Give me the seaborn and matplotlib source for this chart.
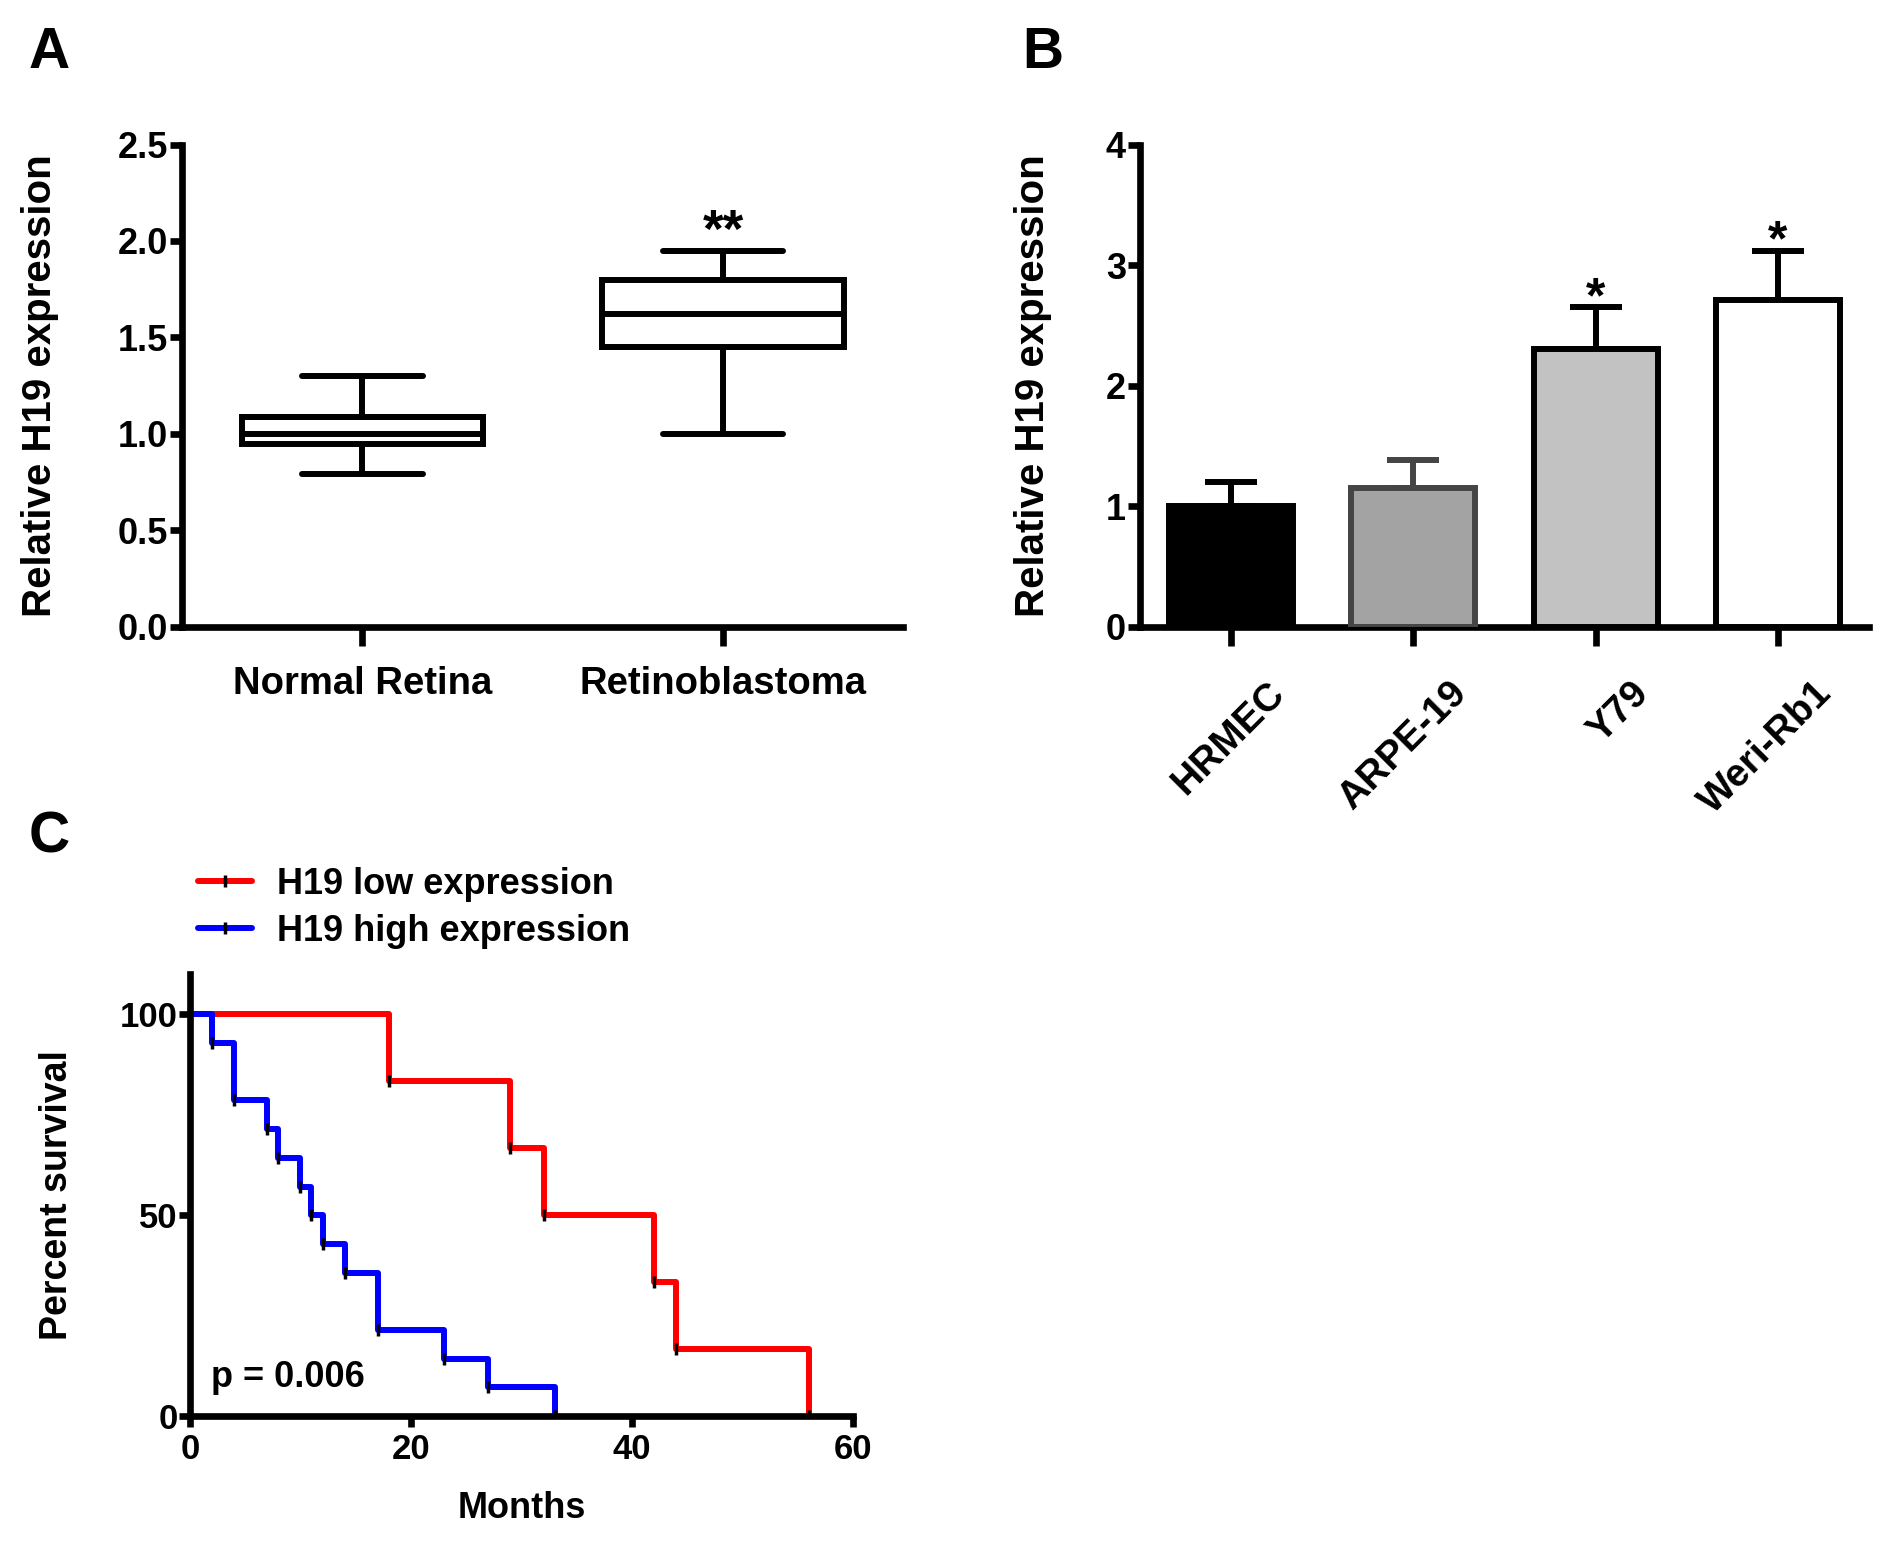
import matplotlib
matplotlib.use('Agg')
import matplotlib.pyplot as plt
import matplotlib.transforms as mtransforms
from matplotlib.ticker import FormatStrFormatter
import numpy as np
import pandas as pd
import seaborn as sns

# A: box plot values (min, Q1, median, Q3, max)
tissue_groups = ['Normal Retina', 'Retinoblastoma']
normal_retina = [0.79, 0.95, 1.00, 1.09, 1.30]
retinoblastoma = [1.00, 1.45, 1.62, 1.80, 1.95]

# B: bar plot, mean and upper error
cell_lines = ['HRMEC', 'ARPE-19', 'Y79', 'Weri-Rb1']
cell_means = [1.00, 1.15, 2.30, 2.71]
cell_err = [0.20, 0.23, 0.35, 0.41]
cell_stars = ['', '', '*', '*']
bar_fills = ['#000000', '#a3a3a3', '#c2c2c2', '#ffffff']
bar_edges = ['#000000', '#454545', '#000000', '#000000']

# C: Kaplan-Meier steps (time in months, percent survival)
low_times = [0, 18, 29, 32, 42, 44, 56]
low_surv = [100, 83.3, 66.7, 50, 33.3, 16.7, 0]
high_times = [0, 2, 4, 7, 8, 10, 11, 12, 14, 17, 23, 27, 33]
high_surv = [100, 92.9, 78.6, 71.4, 64.3, 57.1, 50, 42.9, 35.7, 21.4, 14.3, 7.1, 0]

sns.set_style('ticks')
plt.rcParams['font.family'] = ['Liberation Sans', 'DejaVu Sans']
plt.rcParams['font.weight'] = 'bold'
plt.rcParams['axes.labelweight'] = 'bold'
plt.rcParams['axes.linewidth'] = 4.8
plt.rcParams['xtick.major.width'] = 4.8
plt.rcParams['ytick.major.width'] = 4.8
plt.rcParams['xtick.color'] = 'black'
plt.rcParams['ytick.color'] = 'black'
plt.rcParams['axes.edgecolor'] = 'black'
plt.rcParams['axes.labelcolor'] = 'black'
plt.rcParams['text.color'] = 'black'

LW = 4.3
fig = plt.figure(figsize=(18.9, 15.46), dpi=100)

# ---------- A ----------
axA = fig.add_axes([0.0963, 0.5946, 0.3817, 0.3119])
dfA = pd.DataFrame({
    'group': [tissue_groups[0]] * len(normal_retina) + [tissue_groups[1]] * len(retinoblastoma),
    'value': normal_retina + retinoblastoma,
})
sns.boxplot(data=dfA, x='group', y='value', whis=(0, 100), width=0.67,
            color='white', linecolor='black', linewidth=LW, ax=axA)
axA.set_xlim(-0.5, 1.5)
axA.set_ylim(0, 2.5)
axA.set_yticks(np.arange(0, 2.51, 0.5))
axA.yaxis.set_major_formatter(FormatStrFormatter('%.1f'))
axA.set_xlabel('')
axA.set_ylabel('Relative H19 expression', fontsize=29)
axA.yaxis.set_label_coords(-0.17, 0.5)
axA.tick_params(axis='y', length=9, pad=1, labelsize=26)
axA.tick_params(axis='x', length=14, pad=14, labelsize=27.5)
axA.text(1, max(retinoblastoma) + 0.02, '**', ha='center', va='baseline', fontsize=38)
sns.despine(ax=axA)

# ---------- B ----------
axB = fig.add_axes([0.603, 0.5946, 0.386, 0.3119])
sns.barplot(x=cell_lines, y=cell_means, hue=cell_lines, palette=bar_fills,
            legend=False, errorbar=None, width=0.68, linewidth=LW,
            saturation=1, ax=axB, zorder=3)
for patch, ec in zip(axB.patches, bar_edges):
    patch.set_edgecolor(ec)
for i in range(len(cell_lines)):
    axB.errorbar(i, cell_means[i], yerr=[[0], [cell_err[i]]], fmt='none',
                 ecolor=bar_edges[i], elinewidth=LW, capsize=19, capthick=LW, zorder=2)
    if cell_stars[i]:
        axB.text(i, cell_means[i] + cell_err[i] - 0.04, cell_stars[i], ha='center',
                 va='baseline', fontsize=36)
axB.set_xlim(-0.5, 3.5)
axB.set_ylim(0, 4)
axB.set_yticks([0, 1, 2, 3, 4])
axB.set_ylabel('Relative H19 expression', fontsize=29)
axB.yaxis.set_label_coords(-0.12, 0.5)
axB.tick_params(axis='y', length=9, pad=1, labelsize=26)
axB.tick_params(axis='x', length=14, pad=30, labelsize=28)
offset = mtransforms.ScaledTranslation(0.48, 0, fig.dpi_scale_trans)
for lab in axB.get_xticklabels():
    lab.set_rotation(45)
    lab.set_ha('right')
    lab.set_va('center')
    lab.set_rotation_mode('anchor')
    lab.set_transform(lab.get_transform() + offset)
sns.despine(ax=axB)

# ---------- C ----------
axC = fig.add_axes([0.1005, 0.0841, 0.3508, 0.2858])
sns.lineplot(x=low_times, y=low_surv, drawstyle='steps-post', color='#ff0000',
             linewidth=LW, marker='|', markersize=9, markeredgecolor='black',
             markeredgewidth=2.5, label='H19 low expression', ax=axC)
sns.lineplot(x=high_times, y=high_surv, drawstyle='steps-post', color='#0000ff',
             linewidth=LW, marker='|', markersize=9, markeredgecolor='black',
             markeredgewidth=2.5, label='H19 high expression', ax=axC)
axC.set_xlim(0, 60)
axC.set_ylim(0, 110)
axC.set_xticks([0, 20, 40, 60])
axC.set_yticks([0, 50, 100])
axC.set_xlabel('Months', fontsize=26)
axC.set_ylabel('Percent survival', fontsize=27)
axC.yaxis.set_label_coords(-0.173, 0.5)
axC.xaxis.set_label_coords(0.5, -0.17)
axC.tick_params(axis='both', length=8, labelsize=25)
axC.tick_params(axis='y', pad=1)
axC.tick_params(axis='x', pad=4)
axC.text(1.9, 9.5, 'p = 0.006', ha='left', va='center', fontsize=26)
axC.legend(loc='center left', bbox_to_anchor=(0.012, 1.15), frameon=False,
           fontsize=26, handlelength=1.5, handletextpad=0.7, labelspacing=0.32,
           borderpad=0, borderaxespad=0, numpoints=1)
sns.despine(ax=axC)

# panel letters
fig.text(0.015, 0.983, 'A', fontsize=41, va='top', ha='left')
fig.text(0.541, 0.983, 'B', fontsize=41, va='top', ha='left')
fig.text(0.015, 0.476, 'C', fontsize=41, va='top', ha='left')

fig.savefig('out.png', dpi=100)
